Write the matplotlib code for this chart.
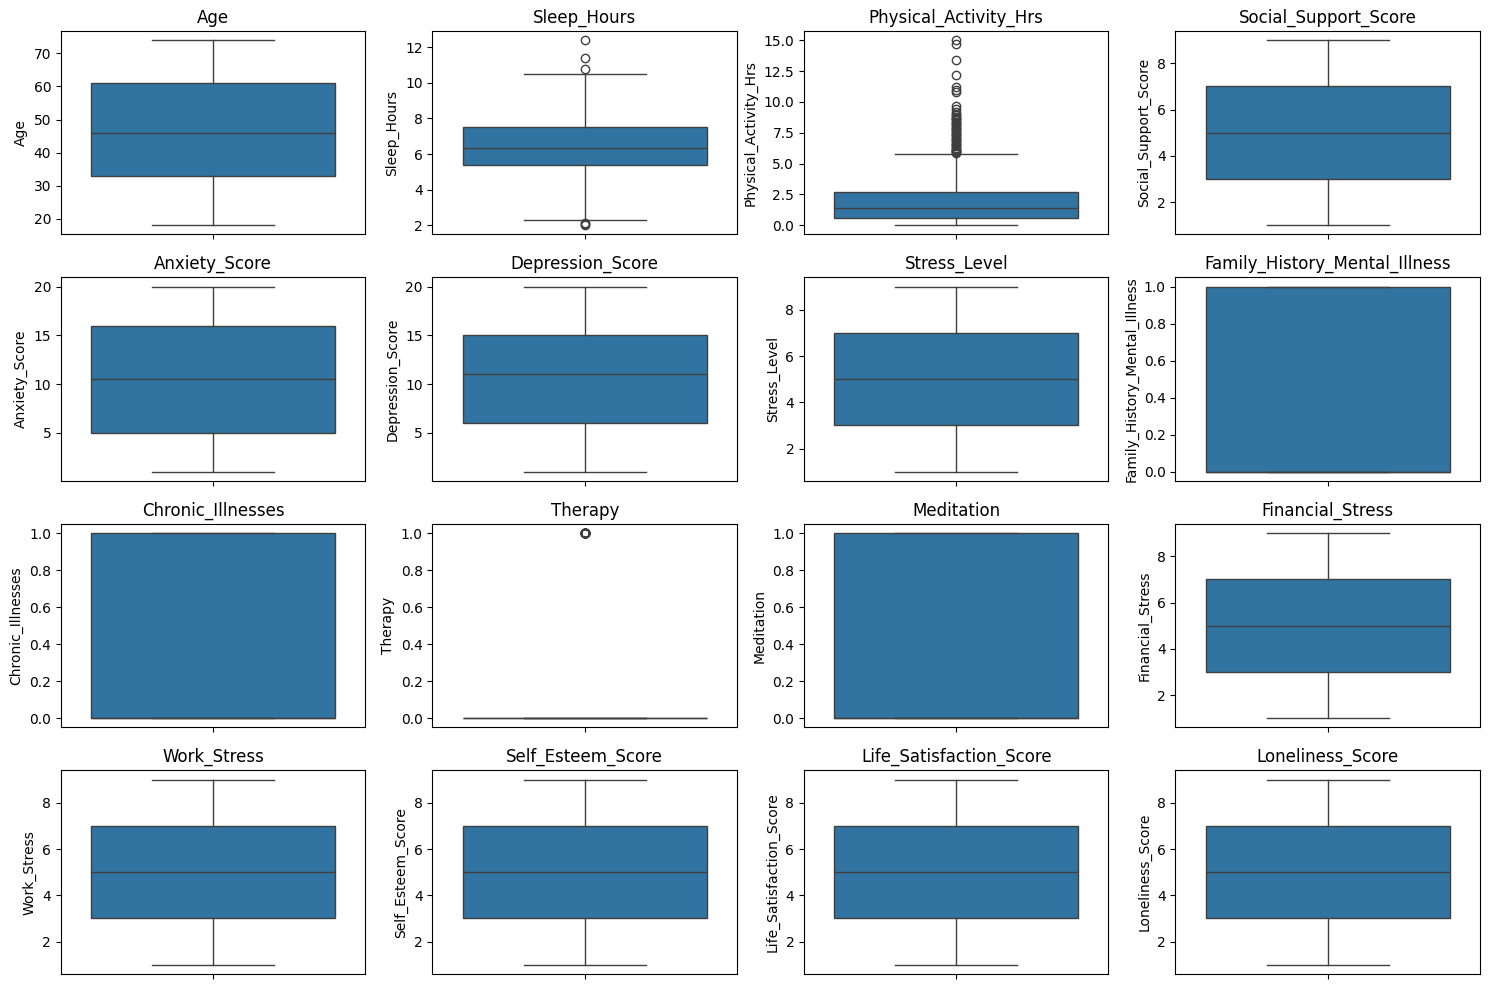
import numpy as np
import matplotlib.pyplot as plt

# columns of the dataset, in plot order
columns = ["Age", "Sleep_Hours", "Physical_Activity_Hrs", "Social_Support_Score",
           "Anxiety_Score", "Depression_Score", "Stress_Level", "Family_History_Mental_Illness",
           "Chronic_Illnesses", "Therapy", "Meditation", "Financial_Stress",
           "Work_Stress", "Self_Esteem_Score", "Life_Satisfaction_Score", "Loneliness_Score"]

# box stats
whis_lo = [18, 2.3, 0.0, 1, 1, 1, 1, 0, 0, 0, 0, 1, 1, 1, 1, 1]
q1      = [33, 5.4, 0.55, 3, 5, 6, 3, 0, 0, 0, 0, 3, 3, 3, 3, 3]
median  = [46, 6.35, 1.4, 5, 10.5, 11, 5, 0, 0, 0, 0, 5, 5, 5, 5, 5]
q3      = [61, 7.5, 2.7, 7, 16, 15, 7, 1, 1, 0, 1, 7, 7, 7, 7, 7]
whis_hi = [74, 10.5, 5.8, 9, 20, 20, 9, 1, 1, 0, 1, 9, 9, 9, 9, 9]

# outliers
sleep_fliers = [10.8, 11.4, 12.4, 2.1, 2.05, 2.0]
activity_fliers = [5.85, 5.9, 6.0, 6.05, 6.1, 6.2, 6.3, 6.4, 6.5, 6.6, 6.7, 6.8, 6.9, 7.0,
                   7.1, 7.2, 7.3, 7.4, 7.5, 7.6, 7.7, 7.8, 7.9, 8.0, 8.1, 8.2, 8.3, 8.4,
                   8.5, 8.6, 8.7, 8.8, 8.9, 9.0, 9.2, 9.4, 9.7, 10.8, 11.0, 11.2, 12.2,
                   13.4, 14.7, 15.0]
therapy_fliers = [1.0] * 40
fliers = {"Sleep_Hours": sleep_fliers,
          "Physical_Activity_Hrs": activity_fliers,
          "Therapy": therapy_fliers}

box_color = "#3274a1"
line_color = (0.248, 0.248, 0.248)

fig, axes = plt.subplots(4, 4, figsize=(14.9, 9.89), dpi=100)
fig.subplots_adjust(left=0.0409, right=0.9933, top=0.9687, bottom=0.0152,
                    wspace=0.22, hspace=0.211)

for i, col in enumerate(columns):
    ax = axes.flat[i]
    stats = [{
        "whislo": whis_lo[i], "q1": q1[i], "med": median[i],
        "q3": q3[i], "whishi": whis_hi[i],
        "fliers": np.array(fliers.get(col, [])),
    }]
    ax.bxp(stats, positions=[0], widths=0.8, patch_artist=True,
           boxprops=dict(facecolor=box_color, edgecolor=line_color, linewidth=1),
           medianprops=dict(color=line_color, linewidth=1),
           whiskerprops=dict(color=line_color, linewidth=1),
           capprops=dict(color=line_color, linewidth=1),
           flierprops=dict(marker="o", markerfacecolor="none",
                           markeredgecolor=line_color, markersize=6, linewidth=0),
           capwidths=0.4)
    ax.set_xlim(-0.5, 0.5)
    ax.set_xticks([0])
    ax.set_xticklabels([""])
    ax.set_title(col, fontsize=12)
    ax.set_ylabel(col)

plt.savefig("out.png", dpi=100)
